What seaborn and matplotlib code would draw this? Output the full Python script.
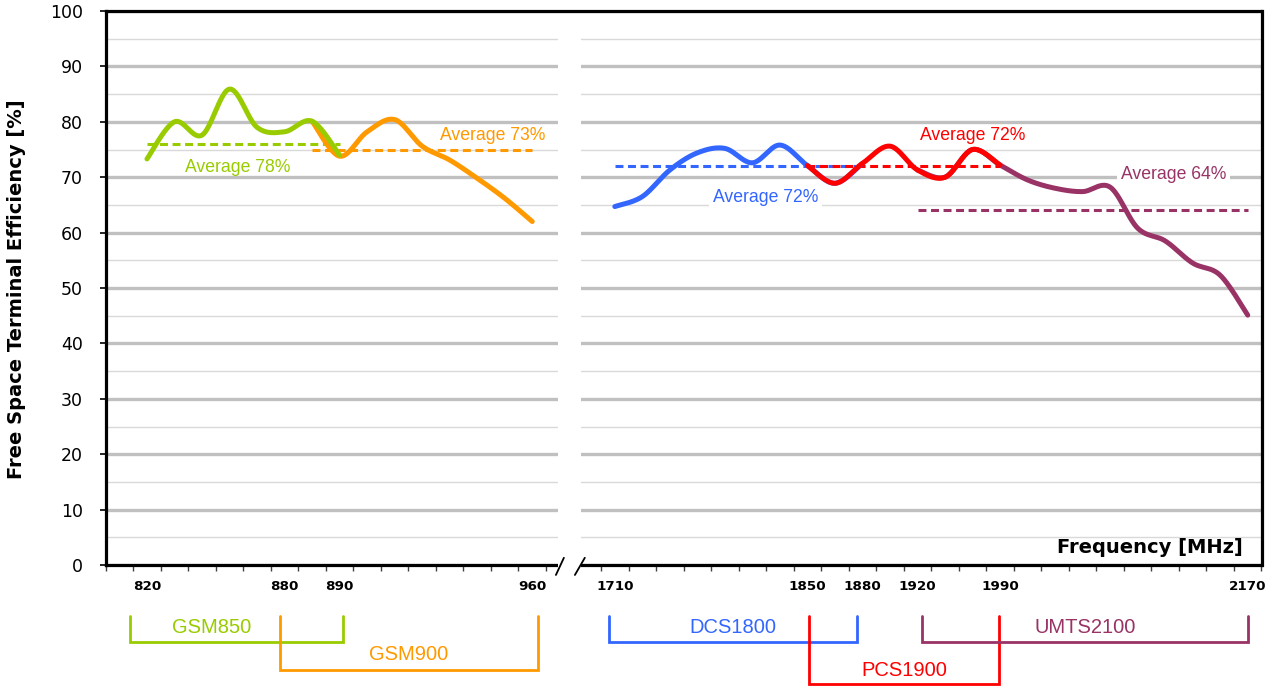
import numpy as np
import pandas as pd
import matplotlib
matplotlib.use("Agg")
import matplotlib.pyplot as plt
import matplotlib.transforms as mtransforms
from matplotlib.patches import Rectangle
from matplotlib.ticker import MultipleLocator, FixedLocator
import seaborn as sns

# --- data: category slots of the x axis (Excel-style category axis) ---
slot_labels = ["", "820", "", "", "", "", "880", "", "890", "", "", "", "", "", "", "960",
               "", "",
               "1710", "", "", "", "", "", "", "1850", "", "1880", "", "1920", "", "", "1990",
               "", "", "", "", "", "", "", "", "2170"]

band_names = ["GSM850", "GSM900", "DCS1800", "PCS1900", "UMTS2100"]
band_colors = ["#99CC00", "#FF9900", "#3366FF", "#FF0000", "#993366"]

# efficiency [%] per slot, each band starting at its first slot
band_start = [1, 7, 18, 25, 29]
gsm850_eff = [73.3, 80.0, 77.6, 85.9, 79.0, 78.2, 80.1, 74.0]
gsm900_eff = [80.1, 73.8, 78.2, 80.4, 75.6, 73.1, 69.8, 66.2, 62.0]
dcs1800_eff = [64.7, 66.5, 71.3, 74.4, 75.2, 72.6, 75.8, 72.1, 68.9, 72.5]
pcs1900_eff = [72.1, 68.9, 72.5, 75.6, 71.3, 70.0, 75.0, 72.2]
umts2100_eff = [71.3, 70.0, 75.0, 72.2, 69.5, 68.0, 67.4, 68.2, 60.8, 58.5, 54.5, 52.3, 45.1]
band_eff = [gsm850_eff, gsm900_eff, dcs1800_eff, pcs1900_eff, umts2100_eff]

# average lines
avg_value = [76.0, 75.0, 72.0, 72.0, 64.0]
avg_from = [1, 7, 18, 25, 29]
avg_to = [8, 15, 26.8, 32, 41]
avg_text = ["Average 78%", "Average 73%", "Average 72%", "Average 72%", "Average 64%"]

# band brackets under the axis (slot units)
bracket_left = [0.38, 5.83, 17.8, 25.06, 29.18]
bracket_right = [8.12, 15.2, 26.8, 31.97, 41.02]


def smooth(xs, ys, n=24):
    """Excel-like smoothed line (Bezier with 1/6 tangents)."""
    p = np.column_stack([xs, ys]).astype(float)
    pe = np.vstack([p[0], p, p[-1]])
    out = []
    for i in range(len(p) - 1):
        p0, p1, p2, p3 = pe[i], pe[i + 1], pe[i + 2], pe[i + 3]
        b1 = p1 + (p2 - p0) / 6
        b2 = p2 - (p3 - p1) / 6
        t = np.linspace(0, 1, n, endpoint=(i == len(p) - 2))[:, None]
        out.append((1 - t) ** 3 * p1 + 3 * (1 - t) ** 2 * t * b1
                   + 3 * (1 - t) * t ** 2 * b2 + t ** 3 * p2)
    return np.vstack(out)


sns.set_theme(style="white")
plt.rcParams["font.family"] = ["DejaVu Sans"]
plt.rcParams.update({"text.color": "black", "axes.labelcolor": "black",
                     "xtick.color": "black", "ytick.color": "black"})

fig = plt.figure(figsize=(12.66, 6.88), dpi=100)
ax = fig.add_axes([105.7 / 1266, 123 / 688, (1261.5 - 105.7) / 1266, 554 / 688])

n_slots = len(slot_labels)
ax.set_xlim(-0.5, n_slots - 0.5)
ax.set_ylim(0, 100)

# grid
ax.yaxis.set_major_locator(MultipleLocator(10))
ax.yaxis.set_minor_locator(MultipleLocator(5))
ax.grid(which="major", axis="y", color="#C0C0C0", lw=2.4, zorder=0)
ax.grid(which="minor", axis="y", color="#D9D9D9", lw=1.0, zorder=0)
ax.grid(False, axis="x", which="both")
ax.set_axisbelow(True)

# curves: drawing order so that overlapping bands look like the original
draw_order = [4, 1, 0, 2, 3]
for k, i in enumerate(draw_order):
    xs = np.arange(band_start[i], band_start[i] + len(band_eff[i]))
    pts = smooth(xs, band_eff[i])
    df = pd.DataFrame({"slot": pts[:, 0], "eff": pts[:, 1]})
    sns.lineplot(data=df, x="slot", y="eff", ax=ax, color=band_colors[i], lw=3.6,
                 sort=False, estimator=None, solid_capstyle="round",
                 solid_joinstyle="round", zorder=4 + k)

for i in range(len(avg_value)):
    sns.lineplot(x=[avg_from[i], avg_to[i]], y=[avg_value[i], avg_value[i]], ax=ax,
                 color=band_colors[i], lw=2.2, ls=(0, (2.6, 1.5)), zorder=3)

# average labels
avg_pos = [(4.31, 71.8), (13.57, 77.5), (23.48, 66.3), (31.0, 77.6), (38.3, 70.4)]
for i, (x, y) in enumerate(avg_pos):
    kw = {}
    if i in (2, 4):
        kw["bbox"] = dict(facecolor="white", edgecolor="none", pad=2.5)
    ax.text(x, y, avg_text[i], color=band_colors[i], fontsize=12.7,
            family=["Liberation Sans", "DejaVu Sans"], ha="center", va="center",
            zorder=20, **kw)

# spines
for s in ax.spines.values():
    s.set_color("black")
    s.set_linewidth(2.3)

# x ticks: labels at slot centres, small marks on slot boundaries
lab_pos = [i for i, t in enumerate(slot_labels) if t]
ax.xaxis.set_major_locator(FixedLocator(lab_pos))
ax.set_xticklabels([slot_labels[i] for i in lab_pos], fontsize=9.7, fontweight="bold")
ax.xaxis.set_minor_locator(FixedLocator(np.arange(-0.5, n_slots, 1.0)))
ax.tick_params(axis="x", which="major", length=0, pad=11, colors="black")
ax.tick_params(axis="x", which="minor", length=4, width=1, color="#404040", bottom=True)
ax.tick_params(axis="y", which="major", length=4.5, width=1.2, color="black",
               labelsize=12.5, pad=12, left=True, labelcolor="black")
ax.tick_params(axis="y", which="minor", length=0)
ax.set_xlabel("")
ax.set_ylabel("")

# axis break
trans = mtransforms.blended_transform_factory(ax.transData, ax.transAxes)
ax.add_patch(Rectangle((15.92, -0.03), 0.85, 1.025, transform=trans, facecolor="white",
                       edgecolor="none", clip_on=False, zorder=2.6))
ax.plot([15.86, 16.15], [-0.018, 0.013], transform=trans, color="black", lw=1.3,
        clip_on=False, zorder=2.7)
ax.plot([16.55, 16.91], [-0.018, 0.013], transform=trans, color="black", lw=1.3,
        clip_on=False, zorder=2.7)

# band brackets below the axis
bracket_top = -0.092
bracket_bottom = [-0.139, -0.1895, -0.139, -0.2148, -0.139]
bracket_text_y = [-0.112, -0.162, -0.112, -0.190, -0.112]
for i in range(len(band_names)):
    l, r, b = bracket_left[i], bracket_right[i], bracket_bottom[i]
    ax.plot([l, l, r, r], [bracket_top, b, b, bracket_top], transform=trans,
            color=band_colors[i], lw=2.0, clip_on=False, solid_joinstyle="miter")
    ax.text((l + r) / 2 if i != 0 else 3.35, bracket_text_y[i], band_names[i],
            transform=trans, color=band_colors[i], fontsize=14.5,
            family=["Liberation Sans", "DejaVu Sans"], ha="center", va="center")

ax.text(0.984, 0.031, "Frequency [MHz]", transform=ax.transAxes, fontsize=14,
        fontweight="bold", ha="right", va="center", color="black")
fig.text(17 / 1266, 0.58, "Free Space Terminal Efficiency [%]", rotation=90,
         fontsize=14, fontweight="bold", ha="center", va="center", color="black")

fig.savefig("out.png", dpi=100)
